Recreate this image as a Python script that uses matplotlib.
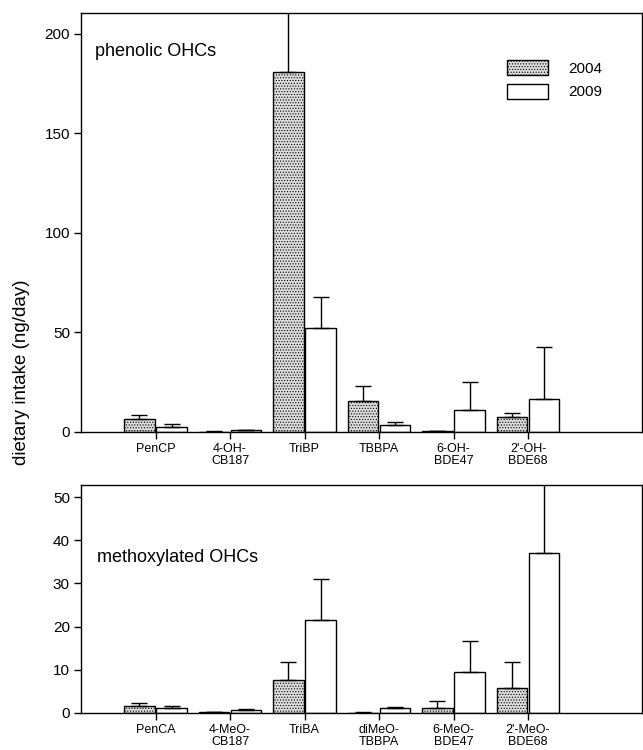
import matplotlib
matplotlib.use("Agg")
import matplotlib.pyplot as plt
import numpy as np

plt.rcParams['font.family'] = ['Liberation Sans', 'DejaVu Sans']
plt.rcParams['hatch.color'] = '#b4b4b4'
plt.rcParams['hatch.linewidth'] = 0.5

# Top panel: phenolic OHCs
top_labels = ["PenCP", "4-OH-\nCB187", "TriBP", "TBBPA", "6-OH-\nBDE47", "2'-OH-\nBDE68"]
top_2004 = [6.5, 0.2, 181, 15.5, 0.3, 7.5]
top_2004_err = [2.0, 0.1, 40, 7.5, 0.1, 2.0]
top_2009 = [2.5, 0.8, 52, 3.5, 11, 16.5]
top_2009_err = [1.3, 0.3, 16, 1.5, 14, 26]

# Bottom panel: methoxylated OHCs
bot_labels = ["PenCA", "4-MeO-\nCB187", "TriBA", "diMeO-\nTBBPA", "6-MeO-\nBDE47", "2'-MeO-\nBDE68"]
bot_2004 = [1.6, 0.2, 7.6, 0.1, 1.2, 5.8]
bot_2004_err = [0.7, 0.05, 4.2, 0.05, 1.6, 6.0]
bot_2009 = [1.2, 0.7, 21.5, 1.1, 9.5, 37]
bot_2009_err = [0.4, 0.3, 9.5, 0.4, 7.2, 20]

years = ["2004", "2009"]

fig = plt.figure(figsize=(6.43, 7.5), dpi=100)
ax1 = fig.add_axes([81/643, 1-432/750, (642-81)/643, (432-13)/750])
ax2 = fig.add_axes([81/643, 1-713/750, (642-81)/643, (713-485)/750])

w = 0.415
off = 0.215

def draw(ax, labels, v1, e1, v2, e2, ymax, yticks):
    x = np.arange(1, len(labels) + 1)
    b1 = ax.bar(x - off, v1, width=w, facecolor='#dcdcdc', edgecolor='black',
                linewidth=1.0, hatch='......', label=years[0], zorder=2)
    b2 = ax.bar(x + off, v2, width=w, facecolor='white', edgecolor='black',
                linewidth=1.0, label=years[1], zorder=2)
    ax.errorbar(x - off, v1, yerr=[np.zeros(len(v1)), e1], fmt='none', ecolor='black',
                elinewidth=1.0, capsize=6, capthick=1.0, zorder=3)
    ax.errorbar(x + off, v2, yerr=[np.zeros(len(v2)), e2], fmt='none', ecolor='black',
                elinewidth=1.0, capsize=6, capthick=1.0, zorder=3)
    ax.set_xlim(0, 7.53)
    ax.set_ylim(0, ymax)
    ax.set_yticks(yticks)
    ax.set_xticks(x)
    ax.set_xticklabels(labels, fontsize=9, linespacing=0.95)
    ax.tick_params(axis='y', direction='out', length=5, width=1, labelsize=11, pad=3)
    ax.tick_params(axis='x', direction='out', length=5, width=1, pad=3)
    for s in ax.spines.values():
        s.set_linewidth(1.0)
    return b1, b2

b1, b2 = draw(ax1, top_labels, top_2004, top_2004_err, top_2009, top_2009_err,
              210.5, [0, 50, 100, 150, 200])
ax1.text((95-81)/561, (432-52)/419, "phenolic OHCs", transform=ax1.transAxes,
         fontsize=13, va='center', ha='left')

draw(ax2, bot_labels, bot_2004, bot_2004_err, bot_2009, bot_2009_err,
     52.8, [0, 10, 20, 30, 40, 50])
ax2.text((97-81)/561, (713-557)/228, "methoxylated OHCs", transform=ax2.transAxes,
         fontsize=13, va='center', ha='left')

ax1.legend(handles=[b1, b2], loc='upper left',
           bbox_to_anchor=((507-81)/561, (432-60)/419), frameon=False,
           fontsize=11, handlelength=2.7, handleheight=1.1, handletextpad=1.3,
           borderpad=0, borderaxespad=0, labelspacing=0.55)

fig.text(22/643, 1-372/750, "dietary intake (ng/day)", rotation=90,
         va='center', ha='center', fontsize=13.5)

fig.savefig("out.png", dpi=100)
